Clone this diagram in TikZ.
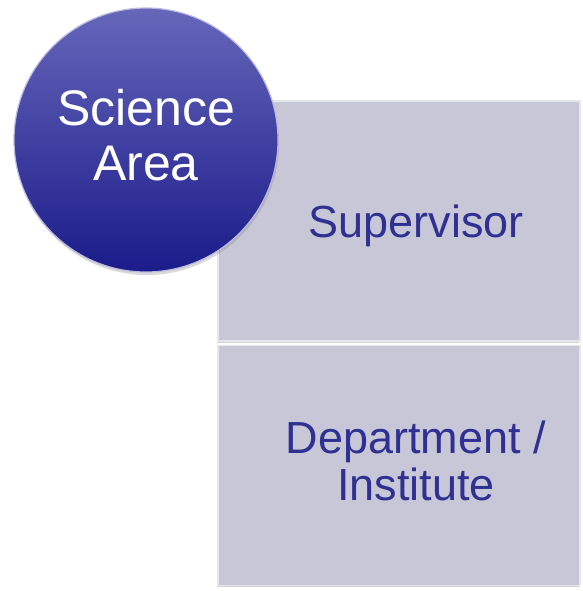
\documentclass[tikz,border=0pt]{standalone}
\usepackage{fontspec}
\setmainfont{Liberation Sans}
\usetikzlibrary{shadows,positioning}
\definecolor{lavgray}{HTML}{C7C7D7}
\definecolor{inkblue}{HTML}{2E3192}
\definecolor{ballhi}{HTML}{6666BA}
\definecolor{balllo}{HTML}{1B1B8A}

\begin{document}
\begin{tikzpicture}[x=1pt, y=-1pt,
    panel/.style={rectangle, fill=lavgray, draw=white!55!lavgray, line width=1.2pt,
      minimum width=362pt, minimum height=240pt, inner sep=0pt,
      drop shadow={shadow xshift=-1pt, shadow yshift=-2pt, opacity=0.35}},
    paneltext/.style={text=inkblue, align=center, inner sep=0pt,
      font=\fontsize{45}{47}\selectfont}]
\useasboundingbox (0,0) rectangle (582,591);

% the two stacked panels
\node[panel] (superv) at (399,221) {};
\node[panel, below=3pt of superv] (dept) {};
\node[paneltext, anchor=base] (supervlbl) at ([xshift=17pt, yshift=-16pt]superv.center) {Supervisor};
\node[paneltext] (deptlbl) at ([xshift=17pt, yshift=4pt]dept.center) {Department /\\Institute};

% the round badge on top
\node[circle, minimum size=264pt, inner sep=0pt, top color=ballhi, bottom color=balllo,
      draw=white!55!ballhi, line width=1.2pt,
      drop shadow={shadow xshift=1pt, shadow yshift=-3pt, opacity=0.3}]
      (area) at (146,140) {};
\node[text=white, align=center, inner sep=0pt, font=\fontsize{50}{55}\selectfont]
      (arealbl) at ([yshift=5pt]area.center) {Science\\Area};
\end{tikzpicture}
\end{document}
